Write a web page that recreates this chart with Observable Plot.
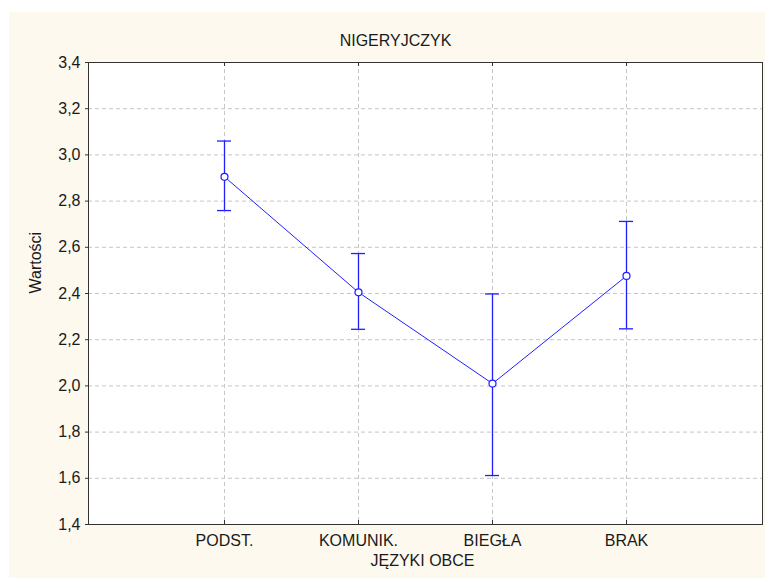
<!DOCTYPE html>
<html><head><meta charset="utf-8">
<script src="https://cdn.jsdelivr.net/npm/d3@7"></script>
<script src="https://cdn.jsdelivr.net/npm/@observablehq/plot@0.6"></script>
<style>
html,body{margin:0;padding:0;background:#fff;}
#wrap{position:relative;width:765px;height:583px;overflow:hidden;}
#bg{position:absolute;left:9px;top:12px;width:756px;height:566px;background:#fdf9ee;}
#chart{position:absolute;left:0;top:0;}
</style></head><body><div id="wrap"><div id="bg"></div><div id="chart"></div></div>
<script>
const title = "NIGERYJCZYK";
const xLabel = "JĘZYKI OBCE";
const yLabel = "Wartości";
const categories = ["PODST.", "KOMUNIK.", "BIEGŁA", "BRAK"];
const means = [2.905, 2.405, 2.01, 2.476];
const upper = [3.06, 2.573, 2.398, 2.712];
const lower = [2.759, 2.245, 1.612, 2.247];
const yTicks = [1.4, 1.6, 1.8, 2.0, 2.2, 2.4, 2.6, 2.8, 3.0, 3.2, 3.4];

const data = categories.map((c, i) => ({cat: c, mean: means[i], hi: upper[i], lo: lower[i]}));
const blue = "#1f1fff";
const grid = "#c6c6c6";
const font = "'Liberation Sans', Arial, sans-serif";
const fmt = d => d.toFixed(1).replace(".", ",");

const plot = Plot.plot({
  width: 765, height: 583,
  marginTop: 62, marginRight: 3, marginBottom: 59, marginLeft: 88,
  style: {background: "transparent", fontFamily: font, fontSize: "16px", color: "#1a1a1a", maxWidth: "none", overflow: "visible"},
  x: {type: "point", domain: categories, padding: 1},
  y: {domain: [1.4, 3.4]},
  marks: [
    Plot.frame({fill: "white"}),
    Plot.ruleY(yTicks.slice(1, -1), {stroke: grid, strokeDasharray: "4,3"}),
    Plot.ruleX(categories, {stroke: grid, strokeDasharray: "4,3"}),
    Plot.tickX(categories, {insetTop: 458, stroke: "#333"}),
    Plot.tickX(categories, {insetBottom: 458, stroke: "#333"}),
    Plot.frame({stroke: "#333"}),
    Plot.axisY({ticks: yTicks, tickFormat: fmt, tickSize: 3, tickPadding: 5, label: null, fontSize: 16, stroke: "#333"}),
    Plot.axisX({tickSize: 0, tickPadding: 10, label: null, fontSize: 16}),
    Plot.ruleX(data, {x: "cat", y1: "lo", y2: "hi", stroke: blue, strokeWidth: 1.3}),
    Plot.ruleY(data, {x1: "cat", x2: "cat", y: "hi", insetLeft: -7, insetRight: -7, stroke: blue, strokeWidth: 1.3}),
    Plot.ruleY(data, {x1: "cat", x2: "cat", y: "lo", insetLeft: -7, insetRight: -7, stroke: blue, strokeWidth: 1.3}),
    Plot.line(data, {x: "cat", y: "mean", stroke: blue, strokeWidth: 1}),
    Plot.dot(data, {x: "cat", y: "mean", r: 3.5, fill: "white", stroke: blue, strokeWidth: 1.2}),
    Plot.text([title], {text: d => d, frameAnchor: "top", dy: -28, dx: -30, fontSize: 16}),
    Plot.text([xLabel], {text: d => d, frameAnchor: "bottom", dy: 41, dx: -3, fontSize: 16}),
    Plot.text([yLabel], {text: d => d, frameAnchor: "left", dx: -53, rotate: -90, fontSize: 16})
  ]
});
document.getElementById("chart").appendChild(plot);
</script>
</body></html>
